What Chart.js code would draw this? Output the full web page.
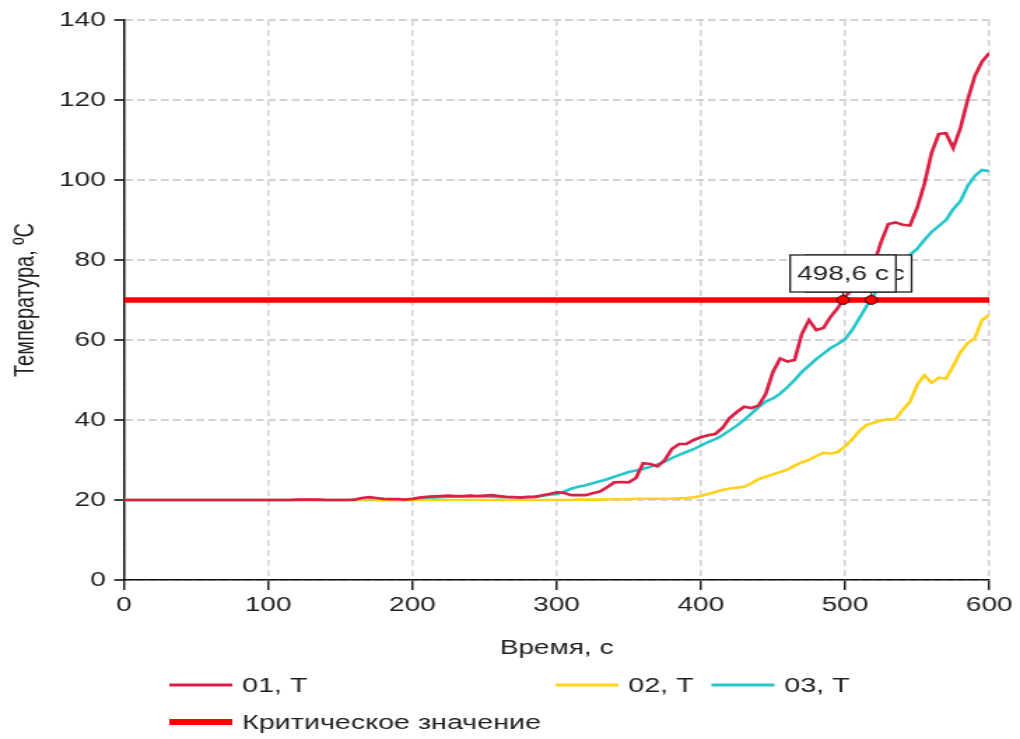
<!DOCTYPE html>
<html lang="ru">
<head>
<meta charset="utf-8">
<title>Температура</title>
<script src="https://cdn.jsdelivr.net/npm/chart.js@4.4.1/dist/chart.umd.min.js"></script>
<style>
  html, body { margin: 0; padding: 0; background: #fff; overflow: hidden; }
  /* the plot is laid out narrow and widened as a whole */
  #wrap { width: 729px; height: 739px; transform: scaleX(1.3992); transform-origin: 0 0; }
</style>
</head>
<body>
<div id="wrap"><canvas id="temp-chart" width="729" height="739"></canvas></div>
<script>
'use strict';

// sampling times, s
const times = [
  0, 5, 10, 15, 20, 25, 30, 35, 40, 45, 50, 55, 60, 65, 70, 75, 80, 85, 90, 95,
  100, 105, 110, 115, 120, 125, 130, 135, 140, 145, 150, 155, 160, 165, 170, 175, 180, 185, 190, 195,
  200, 205, 210, 215, 220, 225, 230, 235, 240, 245, 250, 255, 260, 265, 270, 275, 280, 285, 290, 295,
  300, 305, 310, 315, 320, 325, 330, 335, 340, 345, 350, 355, 360, 365, 370, 375, 380, 385, 390, 395,
  400, 405, 410, 415, 420, 425, 430, 435, 440, 445, 450, 455, 460, 465, 470, 475, 480, 485, 490, 495,
  500, 505, 510, 515, 520, 525, 530, 535, 540, 545, 550, 555, 560, 565, 570, 575, 580, 585, 590, 595,
  600
];

// sensor 01, °C
const temp01 = [
  20.0, 20.0, 20.0, 20.0, 20.0, 20.0, 20.0, 20.0, 20.0, 20.0, 20.0, 20.0, 20.0, 20.0, 20.0, 20.0, 20.0, 20.0, 20.0, 20.0,
  20.0, 20.0, 20.0, 20.0, 20.1, 20.1, 20.1, 20.1, 20.0, 20.0, 20.0, 20.0, 20.1, 20.5, 20.7, 20.5, 20.3, 20.2, 20.2, 20.1,
  20.3, 20.6, 20.8, 20.9, 21.0, 21.1, 21.0, 21.0, 21.1, 21.0, 21.1, 21.2, 21.0, 20.8, 20.7, 20.6, 20.7, 20.8, 21.2, 21.5,
  21.9, 21.8, 21.2, 21.2, 21.2, 21.7, 22.1, 23.2, 24.4, 24.5, 24.4, 25.5, 29.2, 29.0, 28.4, 30.0, 32.8, 34.0, 34.0, 35.0,
  35.7, 36.2, 36.5, 38.0, 40.5, 42.0, 43.3, 43.0, 43.6, 46.5, 52.0, 55.4, 54.6, 55.0, 61.5, 65.0, 62.5, 63.0, 65.8, 68.0,
  70.9, 72.5, 74.5, 77.0, 79.0, 84.5, 89.0, 89.4, 88.8, 88.6, 93.0, 99.0, 106.8, 111.5, 111.7, 108.0, 113.0, 120.0, 126.0, 129.6,
  131.7
];

// sensor 02, °C
const temp02 = [
  20.0, 20.0, 20.0, 20.0, 20.0, 20.0, 20.0, 20.0, 20.0, 20.0, 20.0, 20.0, 20.0, 20.0, 20.0, 20.0, 20.0, 20.0, 20.0, 20.0,
  20.0, 20.0, 20.0, 20.0, 20.0, 20.0, 20.0, 20.0, 20.0, 20.0, 20.0, 20.0, 20.0, 20.1, 20.2, 20.1, 20.0, 20.0, 20.0, 20.0,
  20.0, 20.0, 20.0, 20.0, 20.0, 20.0, 20.0, 20.0, 20.0, 20.0, 20.0, 20.0, 20.0, 20.0, 20.0, 20.0, 20.0, 20.0, 20.0, 20.0,
  20.0, 20.0, 20.0, 20.1, 20.1, 20.1, 20.1, 20.2, 20.2, 20.2, 20.2, 20.3, 20.3, 20.3, 20.3, 20.3, 20.3, 20.4, 20.5, 20.7,
  21.0, 21.5, 22.0, 22.5, 22.9, 23.1, 23.3, 24.2, 25.2, 25.8, 26.4, 27.0, 27.6, 28.6, 29.4, 30.0, 31.0, 31.8, 31.6, 32.0,
  33.4, 35.2, 37.3, 38.8, 39.3, 39.9, 40.2, 40.2, 42.6, 44.5, 48.8, 51.2, 49.3, 50.6, 50.3, 53.5, 57.0, 59.2, 60.5, 65.0,
  66.3
];

// sensor 03, °C
const temp03 = [
  20.0, 20.0, 20.0, 20.0, 20.0, 20.0, 20.0, 20.0, 20.0, 20.0, 20.0, 20.0, 20.0, 20.0, 20.0, 20.0, 20.0, 20.0, 20.0, 20.0,
  20.0, 20.0, 20.0, 20.0, 20.0, 20.0, 20.0, 20.0, 20.0, 20.0, 20.0, 20.0, 20.0, 20.0, 20.0, 20.0, 20.0, 20.0, 20.0, 20.0,
  20.1, 20.3, 20.5, 20.6, 20.7, 20.8, 20.8, 20.8, 20.9, 20.9, 20.9, 20.8, 20.7, 20.7, 20.7, 20.7, 20.8, 20.8, 21.0, 21.3,
  21.5, 22.1, 22.8, 23.3, 23.7, 24.2, 24.7, 25.2, 25.8, 26.4, 27.0, 27.4, 27.8, 28.3, 28.9, 29.6, 30.5, 31.3, 32.0, 32.7,
  33.6, 34.5, 35.2, 36.2, 37.4, 38.6, 40.0, 41.6, 43.2, 44.6, 45.4, 46.6, 48.2, 50.0, 52.0, 53.6, 55.2, 56.6, 58.0, 59.0,
  60.2, 62.5, 65.5, 68.5, 71.2, 74.5, 77.3, 79.3, 80.3, 81.3, 82.8, 85.0, 87.0, 88.5, 90.0, 92.7, 94.7, 98.5, 101.0, 102.5,
  102.2
];

const criticalValue = 70;
const criticalSpan = [0, 600];
// moments when sensors 01 and 03 reach the critical value, s
const crossTimes = [498.6, 518.2];

const seriesNames = ['01, T', '02, T', '03, T', 'Критическое значение'];
const seriesColors = ['#DC1F45', '#FFD21A', '#26C6CC', '#FF0000'];

const FONT = '"Liberation Sans", Arial, sans-serif';
const TEXT = '#1e1e1e';

const toPoints = vals => vals.map((v, i) => ({ x: times[i], y: v }));

// value boxes with pins on the critical line
const crossLabels = {
  id: 'crossLabels',
  afterDatasetsDraw(chart) {
    const { ctx, scales: { x, y } } = chart;
    const yc = y.getPixelForValue(criticalValue);
    const boxH = 37, gap = 8, pad = 5;
    const shift = [0, -9];
    ctx.save();
    ctx.font = `20px ${FONT}`;
    ctx.textAlign = 'center';
    ctx.textBaseline = 'middle';
    // later crossing sits behind the earlier one
    for (let i = crossTimes.length - 1; i >= 0; i--) {
      const xc = x.getPixelForValue(crossTimes[i]);
      const text = crossTimes[i].toFixed(1).replace('.', ',') + ' с';
      const w = ctx.measureText(text).width + pad * 2;
      const left = xc + shift[i] - w / 2;
      const top = yc - gap - boxH;
      ctx.fillStyle = '#fff';
      ctx.fillRect(left, top, w, boxH);
      ctx.strokeStyle = '#222';
      ctx.lineWidth = 1.3;
      ctx.strokeRect(left, top, w, boxH);
      ctx.fillStyle = TEXT;
      ctx.fillText(text, left + w / 2, top + boxH / 2 + 1);
    }
    crossTimes.forEach(t => {
      const xc = x.getPixelForValue(t);
      ctx.strokeStyle = '#222';
      ctx.lineWidth = 1;
      ctx.beginPath();
      ctx.moveTo(xc, yc - gap);
      ctx.lineTo(xc, yc);
      ctx.stroke();
      ctx.beginPath();
      ctx.arc(xc, yc, 4.4, 0, Math.PI * 2);
      ctx.fillStyle = '#FF0000';
      ctx.fill();
      ctx.strokeStyle = '#3a0000';
      ctx.stroke();
    });
    ctx.restore();
  }
};

// two-row legend under the axis title
const legendRows = {
  id: 'legendRows',
  afterDraw(chart) {
    const { ctx } = chart;
    const slots = [
      { x: 121, y: 685, w: 2.8 },
      { x: 397, y: 685, w: 2.8 },
      { x: 508.5, y: 685, w: 2.8 },
      { x: 121, y: 722, w: 6 }
    ];
    ctx.save();
    ctx.font = `20.5px ${FONT}`;
    ctx.textAlign = 'left';
    ctx.textBaseline = 'middle';
    slots.forEach((s, i) => {
      ctx.strokeStyle = seriesColors[i];
      ctx.lineWidth = s.w;
      ctx.beginPath();
      ctx.moveTo(s.x, s.y);
      ctx.lineTo(s.x + 45, s.y);
      ctx.stroke();
      ctx.fillStyle = TEXT;
      ctx.fillText(seriesNames[i], s.x + 52, s.y + 1);
    });
    ctx.restore();
  }
};

const line = (i, vals, width) => ({
  label: seriesNames[i],
  data: vals,
  borderColor: seriesColors[i],
  borderWidth: width,
  pointRadius: 0,
  tension: 0,
  order: 1
});

new Chart(document.getElementById('temp-chart'), {
  type: 'line',
  data: {
    datasets: [
      line(0, toPoints(temp01), 2.7),
      line(1, toPoints(temp02), 2.6),
      line(2, toPoints(temp03), 2.6),
      { ...line(3, criticalSpan.map(t => ({ x: t, y: criticalValue })), 5.5), order: 0 }
    ]
  },
  options: {
    responsive: false,
    animation: false,
    layout: { padding: { top: 20, right: 22, bottom: 79, left: 0 } },
    plugins: { legend: { display: false }, tooltip: { enabled: false } },
    scales: {
      x: {
        type: 'linear', min: 0, max: 600,
        afterFit: s => { s.height = 80; },
        ticks: { stepSize: 100, padding: 3, color: TEXT, font: { family: FONT, size: 20 } },
        grid: { color: '#d2d2d2', lineWidth: 1.5, tickColor: '#111', tickLength: 10, tickWidth: 1.4 },
        border: { color: '#111', width: 1.5, dash: [6, 4] },
        title: { display: true, text: 'Время, с', color: TEXT, font: { family: FONT, size: 20 }, padding: { top: 0, bottom: 0 } }
      },
      y: {
        min: 0, max: 140,
        afterFit: s => { s.width = 88.6; },
        ticks: { stepSize: 20, padding: 6, color: TEXT, font: { family: FONT, size: 20 } },
        grid: { color: '#d2d2d2', lineWidth: 2, tickColor: '#111', tickLength: 7, tickWidth: 1.6 },
        border: { color: '#111', width: 1.5, dash: [5.5, 3] },
        title: { display: true, text: 'Температура, ºC', color: TEXT, font: { family: FONT, size: 20 }, padding: { top: 6, bottom: 0 } }
      }
    }
  },
  plugins: [crossLabels, legendRows]
});
</script>
</body>
</html>
